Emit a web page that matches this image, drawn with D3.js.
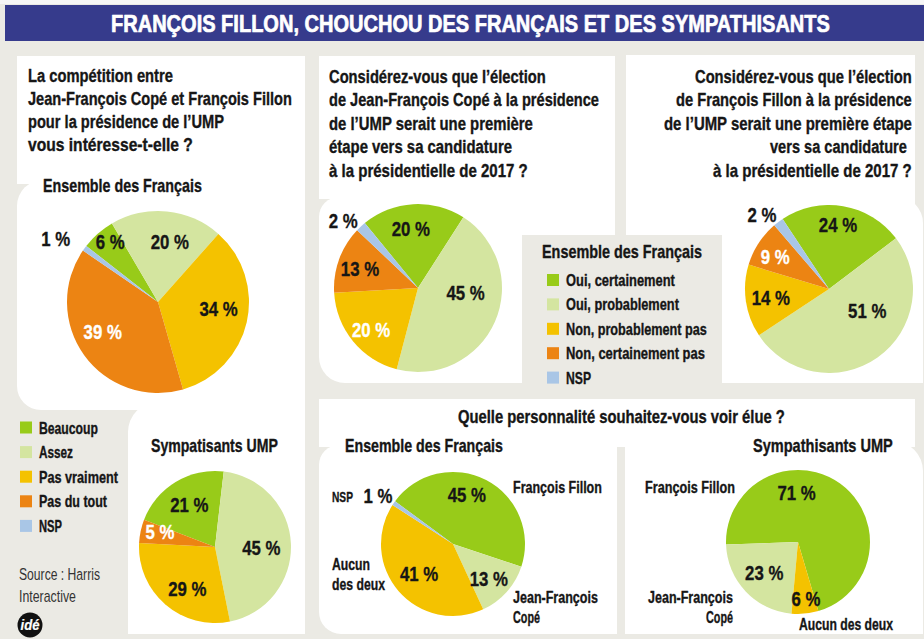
<!DOCTYPE html>
<html>
<head>
<meta charset="utf-8">
<script src="https://cdn.jsdelivr.net/npm/d3@7"></script>
<style>
  body { margin: 0; background: #ebeae4; }
  svg { display: block; }
</style>
</head>
<body>
<script>
// ---- données ----
const titre = "FRANÇOIS FILLON, CHOUCHOU DES FRANÇAIS ET DES SYMPATHISANTS";

const q1Lines = ["La compétition entre", "Jean-François Copé et François Fillon", "pour la présidence de l’UMP", "vous intéresse-t-elle ?"];
const q2Lines = ["Considérez-vous que l’élection", "de Jean-François Copé à la présidence", "de l’UMP serait une première", "étape vers sa candidature", "à la présidentielle de 2017 ?"];
const q3Lines = ["Considérez-vous que l’élection", "de François Fillon à la présidence", "de l’UMP serait une première étape", "vers sa candidature ", "à la présidentielle de 2017 ?"];
const q4 = "Quelle personnalité souhaitez-vous voir élue ?";

const interetCats = ["Beaucoup", "Assez", "Pas vraiment", "Pas du tout", "NSP"];
const interetEnsemble = [6, 20, 34, 39, 1];
const interetUMP = [21, 45, 29, 5, 0];

const etapeCats = ["Oui, certainement", "Oui, probablement", "Non, probablement pas", "Non, certainement pas", "NSP"];
const etapeCope = [20, 45, 20, 13, 2];
const etapeFillon = [24, 51, 14, 9, 2];

const persoCats = ["François Fillon", "Jean-François Copé", "Aucun des deux", "NSP"];
const persoEnsemble = [45, 13, 41, 1];
const persoUMP = [71, 23, 6, 0];

const source = ["Source : Harris", "Interactive"];

// ---- styles ----
const FONT = "'Liberation Sans', Arial, sans-serif";
const ink = "#161616";
const bg = "#ebeae4";
const green = "#98cb19", lightGreen = "#d4e5a0", yellow = "#f4c200", orange = "#ec8413", blue = "#a9c6e6";
const palette5 = [green, lightGreen, yellow, orange, blue];
const palettePerso = [green, lightGreen, yellow, blue];

const W = 924, H = 639;
const svg = d3.select("body").append("svg")
    .attr("width", W)
    .attr("height", H);

svg.append("rect").attr("width", W).attr("height", H).attr("fill", bg);
svg.append("rect").attr("width", W).attr("height", 4).attr("fill", "#f6f6f6");
svg.append("rect").attr("x", 5).attr("y", 5).attr("width", W - 5).attr("height", 36).attr("fill", "#363b8c");

// rounded rect with radii [tl, tr, br, bl]
function rr(x, y, w, h, r) {
    const [tl, tr, br, bl] = r || [0, 0, 0, 0];
    return `M${x + tl},${y}H${x + w - tr}` +
        (tr ? `A${tr},${tr} 0 0 1 ${x + w},${y + tr}` : "") +
        `V${y + h - br}` +
        (br ? `A${br},${br} 0 0 1 ${x + w - br},${y + h}` : "") +
        `H${x + bl}` +
        (bl ? `A${bl},${bl} 0 0 1 ${x},${y + h - bl}` : "") +
        `V${y + tl}` +
        (tl ? `A${tl},${tl} 0 0 1 ${x + tl},${y}` : "") + "Z";
}

const panels = [
    [17, 56, 288, 128],
    [17, 180, 288, 230, [26, 0, 0, 24]],
    [128, 402, 177, 232, [30, 0, 0, 0]],
    [319, 56, 296, 143],
    [400, 190, 215, 45],
    [319, 197, 203, 186, [20, 0, 0, 26]],
    [626, 55, 289, 180],
    [722, 197, 201, 186, [0, 26, 0, 0]],
    [319, 399, 596, 48],
    [319, 445, 298, 189, [20, 0, 0, 22]],
    [625, 441, 298, 193, [0, 30, 0, 0]]
];
svg.append("g").selectAll("path")
    .data(panels)
    .join("path")
    .attr("d", d => rr(d[0], d[1], d[2], d[3], d[4]))
    .attr("fill", "#fff");

// text helper: squeeze horizontally to get the condensed look
function txt(x, y, s, o) {
    const fill = o.fill || ink;
    const g = svg.append("g");
    const t = g.append("text")
        .attr("font-family", FONT)
        .attr("font-size", o.size || 17.5)
        .attr("font-weight", o.weight || 700)
        .attr("fill", fill)
        .text(s);
    if ((o.weight || 700) >= 700) {
        t.attr("stroke", fill).attr("stroke-width", o.sw == null ? 0.35 : o.sw).attr("stroke-linejoin", "round");
    }
    const n = t.node().getComputedTextLength();
    const w = o.width || n * (o.cond || 0.8);
    let x0 = x;
    if (o.anchor === "end") x0 = x - w;
    if (o.anchor === "middle") x0 = x - w / 2;
    g.attr("transform", `translate(${x0},${y}) scale(${w / n},1)`);
    return t;
}

// title
txt(111, 32, titre, {size: 23.5, width: 719, fill: "#fff", sw: 0.7});

// questions
const q1W = [145, 264, 196, 165];
q1Lines.forEach((s, i) => txt(28, 82 + i * 23, s, {width: q1W[i]}));
const q2W = [217, 270, 204, 183, 199];
q2Lines.forEach((s, i) => txt(329, 83 + i * 23.4, s, {width: q2W[i]}));
const q3W = [217, 236, 248, 137, 199];
const q3X = [912, 912, 912, 907, 912];
q3Lines.forEach((s, i) => txt(q3X[i], 83 + i * 23.4, s, {width: q3W[i], anchor: "end"}));
txt(458, 423, q4, {width: 327});

// sub heads
txt(43, 192, "Ensemble des Français", {width: 159});
txt(151, 452, "Sympatisants UMP", {width: 127});
txt(345, 452, "Ensemble des Français", {width: 158});
txt(753, 452, "Sympathisants UMP", {width: 140});

// legends
function legend(cats, x, y0, step, widths) {
    cats.forEach((c, i) => {
        const cy = y0 + i * step;
        svg.append("rect")
            .attr("x", x).attr("y", cy - 6)
            .attr("width", 12).attr("height", 12)
            .attr("fill", palette5[i]);
        txt(x + 19, cy + 6, c, {size: 16.5, width: widths[i]});
    });
}
legend(interetCats, 20, 427.5, 24.6, [59, 34, 79, 68, 23]);
txt(542, 258, "Ensemble des Français", {width: 160});
legend(etapeCats, 547, 280, 24.4, [109, 113, 141, 139, 25]);

// source + logo
txt(19, 580, source[0], {size: 17, weight: 400, width: 81, fill: "#333"});
txt(19, 602, source[1], {size: 17, weight: 400, width: 57, fill: "#333"});
svg.append("circle").attr("cx", 30).attr("cy", 625).attr("r", 12.5).attr("fill", "#111");
txt(30, 630, "idé", {size: 14, fill: "#fff", anchor: "middle", width: 19, sw: 0.2})
    .attr("font-style", "italic");

// pies
function drawPie(cfg, values, cats, colors) {
    const color = d3.scaleOrdinal().domain(cats).range(colors);
    const data = values.map((v, i) => ({cat: cats[i], v: v}));
    const a0 = cfg.start * Math.PI / 180;
    const pie = d3.pie()
        .sort(null)
        .value(d => d.v)
        .startAngle(a0)
        .endAngle(a0 + cfg.dir * 2 * Math.PI);
    const arcs = pie(data);
    const arc = d3.arc().innerRadius(0).outerRadius(cfg.r);

    svg.append("g")
        .attr("transform", `translate(${cfg.cx},${cfg.cy})`)
        .selectAll("path")
        .data(arcs.filter(d => d.data.v > 0))
        .join("path")
        .attr("d", arc)
        .attr("fill", d => color(d.data.cat));

    arcs.forEach((d, j) => {
        if (!d.data.v) return;
        const lb = cfg.labels[j];
        const a = (d.startAngle + d.endAngle) / 2 + lb[1] * Math.PI / 180;
        const r = lb[0] * cfg.r;
        const x = cfg.cx + r * Math.sin(a),
            y = cfg.cy - r * Math.cos(a);
        txt(x, y + 7.5, d.data.v + " %", {size: 21, anchor: "middle", fill: lb[2] ? "#fff" : ink, cond: 0.8});
    });
}

// labels: [radius factor, angle offset (deg), white?]
drawPie({cx: 158, cy: 302, r: 91, start: -52, dir: 1,
    labels: [[0.85, 3, 0], [0.68, 5.5, 0], [0.67, -7, 0], [0.69, 7.4, 1], [1.32, -4.5, 0]]},
    interetEnsemble, interetCats, palette5);
drawPie({cx: 215, cy: 547, r: 76, start: -69, dir: 1,
    labels: [[0.65, 0, 0], [0.61, 3.6, 0], [0.66, -7.3, 0], [0.75, 3.3, 1], [1, 0, 0]]},
    interetUMP, interetCats, palette5);
drawPie({cx: 418, cy: 288, r: 84, start: -39.3, dir: 1,
    labels: [[0.71, -3.5, 0], [0.57, -17.8, 0], [0.75, -2.5, 1], [0.73, -1.1, 0], [1.2, -4.9, 0]]},
    etapeCope, etapeCats, palette5);
drawPie({cx: 829, cy: 289, r: 84, start: -33.5, dir: 1,
    labels: [[0.77, -1.7, 0], [0.52, -25.8, 0], [0.70, -0.5, 0], [0.75, -1.7, 1], [1.19, -5.1, 0]]},
    etapeFillon, etapeCats, palette5);
drawPie({cx: 453, cy: 544, r: 72, start: -53.6, dir: 1,
    labels: [[0.71, -11.6, 0], [0.69, 2, 0], [0.625, 0, 0], [1.24, -1.7, 0]]},
    persoEnsemble, persoCats, palettePerso);
drawPie({cx: 798, cy: 542, r: 72, start: 163.6, dir: -1,
    labels: [[0.69, -37.5, 0], [0.63, 1.5, 0], [0.79, -2.5, 0], [1, 0, 0]]},
    persoUMP, persoCats, palettePerso);

// category names beside the last two pies
function catLabel(cat, brk, x, y, anchor, widths, size) {
    const words = cat.split(" ");
    const lines = brk ? [words.slice(0, brk).join(" "), words.slice(brk).join(" ")] : [cat];
    lines.forEach((s, i) => txt(x, y + i * 19.5, s, {size: size || 16.5, anchor: anchor, width: widths[i]}));
}
catLabel(persoCats[0], 0, 513, 493, "start", [89]);
catLabel(persoCats[1], 1, 513, 603, "start", [85, 27]);
catLabel(persoCats[2], 1, 332, 570, "start", [38, 53]);
catLabel(persoCats[3], 0, 332, 502, "start", [21], 15);
catLabel(persoCats[0], 0, 735, 493, "end", [90]);
catLabel(persoCats[1], 1, 733, 603, "end", [85, 27]);
catLabel(persoCats[2], 0, 799, 630, "start", [94]);
</script>
</body>
</html>
